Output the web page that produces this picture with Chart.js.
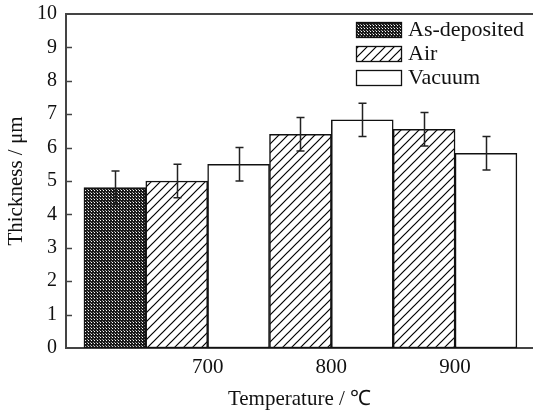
<!DOCTYPE html>
<html lang="en">

<head>
    <meta charset="UTF-8">
    <title>Thickness vs Temperature</title>
    <script src="https://cdn.jsdelivr.net/npm/chart.js"></script>
    <style>
        html, body {
            margin: 0;
            padding: 0;
            background: #fff;
        }

        .chart-container {
            width: 533px;
            height: 414px;
        }
    </style>
</head>

<body>
    <div class="chart-container">
        <canvas id="myChart" width="533" height="414"></canvas>
    </div>

<script>
    // Data
    const seriesNames = ['As-deposited', 'Air', 'Vacuum'];
    const tempLabels = ['700', '800', '900'];
    const asDeposited = [4.80];
    const airValues = [5.00, 6.40, 6.55];
    const vacuumValues = [5.50, 6.83, 5.83];
    const asDepositedErr = [0.5];
    const airErr = [0.5, 0.5, 0.5];
    const vacuumErr = [0.5, 0.5, 0.5];
    const yTicks = [0, 1, 2, 3, 4, 5, 6, 7, 8, 9, 10];

    const FONT = "'Liberation Serif', 'Times New Roman', serif";
    const INK = '#111';

    // hatch patterns
    function makeAirPattern() {
        const c = document.createElement('canvas');
        c.width = 9;
        c.height = 9;
        const g = c.getContext('2d');
        g.fillStyle = '#fff';
        g.fillRect(0, 0, 9, 9);
        g.strokeStyle = '#000';
        g.lineWidth = 1.2;
        g.beginPath();
        g.moveTo(-1, 10); g.lineTo(10, -1);
        g.moveTo(-2, 2); g.lineTo(2, -2);
        g.moveTo(7, 11); g.lineTo(11, 7);
        g.stroke();
        return g.createPattern(c, 'repeat');
    }

    function makeDotPattern() {
        const c = document.createElement('canvas');
        c.width = 3;
        c.height = 3;
        const g = c.getContext('2d');
        g.fillStyle = '#1a1a1a';
        g.fillRect(0, 0, 3, 3);
        g.fillStyle = '#fff';
        g.fillRect(1, 1, 1, 1);
        g.fillStyle = '#9a9a9a';
        g.fillRect(0, 0, 1, 1);
        return g.createPattern(c, 'repeat');
    }

    const fills = [makeDotPattern(), makeAirPattern(), '#fff'];

    // bar slots: as-deposited first, then air/vacuum pairs per temperature
    const asDepData = asDeposited.map((v, i) => ({ x: 0.5 + i, y: v, err: asDepositedErr[i] }));
    const airData = airValues.map((v, i) => ({ x: 1.5 + 2 * i, y: v, err: airErr[i] }));
    const vacData = vacuumValues.map((v, i) => ({ x: 2.5 + 2 * i, y: v, err: vacuumErr[i] }));

    // error bars, inward y ticks, top frame line and legend
    const extrasPlugin = {
        id: 'extras',
        afterDatasetsDraw(chart) {
            const ctx = chart.ctx;
            const yScale = chart.scales.y;
            ctx.save();
            ctx.strokeStyle = '#222';
            ctx.lineWidth = 1.5;
            chart.data.datasets.forEach((ds, di) => {
                const meta = chart.getDatasetMeta(di);
                meta.data.forEach((el, i) => {
                    const p = ds.data[i];
                    const x = Math.round(el.x) + 0.5;
                    const yt = yScale.getPixelForValue(p.y + p.err);
                    const yb = yScale.getPixelForValue(p.y - p.err);
                    ctx.beginPath();
                    ctx.moveTo(x, yt); ctx.lineTo(x, yb);
                    ctx.moveTo(x - 4, yt); ctx.lineTo(x + 4, yt);
                    ctx.moveTo(x - 4, yb); ctx.lineTo(x + 4, yb);
                    ctx.stroke();
                });
            });
            ctx.restore();
        },
        afterDraw(chart) {
            const ctx = chart.ctx;
            const area = chart.chartArea;
            const yScale = chart.scales.y;
            ctx.save();
            ctx.strokeStyle = '#444';
            ctx.lineWidth = 2;
            ctx.beginPath();
            ctx.moveTo(area.left - 1, area.top);
            ctx.lineTo(chart.width, area.top);
            ctx.stroke();

            ctx.lineWidth = 1.5;
            yTicks.forEach((t) => {
                if (t === 0 || t === 10) return;
                const y = Math.round(yScale.getPixelForValue(t)) + 0.5;
                ctx.beginPath();
                ctx.moveTo(area.left, y);
                ctx.lineTo(area.left + 6, y);
                ctx.stroke();
            });

            // legend
            const bx = 356, bw = 45, bh = 15;
            ctx.font = '22px ' + FONT;
            ctx.textBaseline = 'middle';
            seriesNames.forEach((name, i) => {
                const by = 22 + i * 24;
                ctx.fillStyle = fills[i];
                ctx.fillRect(bx, by, bw, bh);
                ctx.strokeStyle = '#111';
                ctx.lineWidth = 1.3;
                ctx.strokeRect(bx + 0.5, by + 0.5, bw, bh);
                ctx.fillStyle = INK;
                ctx.fillText(name, bx + 52, by + bh / 2 + 1);
            });
            ctx.restore();
        }
    };

    const barBase = {
        borderColor: '#111',
        borderWidth: 1.5,
        borderSkipped: false,
        barPercentage: 1,
        categoryPercentage: 1,
        grouped: false
    };

    const ctx = document.getElementById('myChart');
    let myChart = new Chart(ctx, {
        type: 'bar',
        data: {
            datasets: [
                Object.assign({ label: seriesNames[0], data: asDepData, backgroundColor: fills[0] }, barBase),
                Object.assign({ label: seriesNames[1], data: airData, backgroundColor: fills[1] }, barBase),
                Object.assign({ label: seriesNames[2], data: vacData, backgroundColor: fills[2] }, barBase)
            ]
        },
        options: {
            responsive: false,
            animation: false,
            layout: {
                padding: { top: 14, right: 0, left: 0, bottom: 0 }
            },
            plugins: {
                legend: { display: false },
                tooltip: { enabled: false }
            },
            scales: {
                x: {
                    type: 'linear',
                    offset: false,
                    bounds: 'ticks',
                    min: -0.29,
                    max: 7.26,
                    afterFit(scale) {
                        scale.height = 66;
                        scale.paddingLeft = 0;
                        scale.paddingRight = 0;
                    },
                    afterBuildTicks(scale) {
                        scale.ticks = tempLabels.map((_, i) => ({ value: 2 + 2 * i }));
                    },
                    grid: { display: false, drawTicks: false, offset: false },
                    border: { display: true, color: '#444', width: 2 },
                    ticks: {
                        autoSkip: false,
                        maxRotation: 0,
                        padding: 7,
                        color: INK,
                        font: { family: FONT, size: 21 },
                        callback: (v) => tempLabels[Math.round((v - 2) / 2)]
                    },
                    title: {
                        display: true,
                        text: 'Temperature / ℃',
                        color: INK,
                        font: { family: FONT, size: 21 },
                        padding: { top: 0, bottom: 2 }
                    }
                },
                y: {
                    min: 0,
                    max: 10,
                    afterFit(scale) {
                        scale.width = 66;
                        scale.paddingTop = 0;
                        scale.paddingBottom = 0;
                    },
                    afterBuildTicks(scale) {
                        scale.ticks = yTicks.map((v) => ({ value: v }));
                    },
                    grid: { display: false, drawTicks: false },
                    border: { display: true, color: '#444', width: 2 },
                    ticks: {
                        padding: 9,
                        color: INK,
                        font: { family: FONT, size: 20 }
                    },
                    title: {
                        display: true,
                        text: 'Thickness / μm',
                        color: INK,
                        font: { family: FONT, size: 21 },
                        padding: { top: 4, bottom: 0 }
                    }
                }
            }
        },
        plugins: [extrasPlugin]
    });
</script>
</body>

</html>
